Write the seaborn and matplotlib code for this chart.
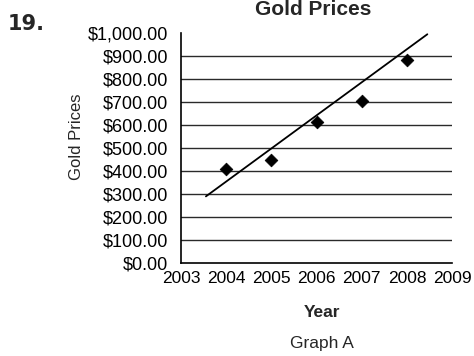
import matplotlib
matplotlib.use("Agg")
import matplotlib.pyplot as plt
import matplotlib.ticker as mticker
import seaborn as sns
import pandas as pd

# observed gold prices (points)
years = [2004, 2005, 2006, 2007, 2008]
prices = [410, 450, 615, 705, 885]

# hand-drawn line of best fit (end points)
fit_years = [2003.55, 2008.45]
fit_prices = [290, 995]

y_ticks = list(range(0, 1001, 100))
x_ticks = list(range(2003, 2010))

sns.set_style("white")
plt.rcParams['font.family'] = ['Liberation Sans', 'DejaVu Sans']

fig = plt.figure(figsize=(4.74, 3.56), dpi=100)
ax = fig.add_axes([0.382, 0.261, 0.572, 0.646])

pts = pd.DataFrame({"Year": years, "Price": prices})
fit = pd.DataFrame({"Year": fit_years, "Price": fit_prices})

for v in y_ticks[1:-1]:
    ax.axhline(v, color="#2a2a2a", lw=1.0, zorder=1)

sns.lineplot(data=fit, x="Year", y="Price", color="black", lw=1.3, ax=ax, zorder=3)
sns.scatterplot(data=pts, x="Year", y="Price", marker="D", s=42, color="black",
                edgecolor="black", ax=ax, zorder=4)

ax.set_xlim(2003, 2009)
ax.set_ylim(0, 1000)
ax.set_xticks(x_ticks)
ax.set_yticks(y_ticks)
ax.yaxis.set_major_formatter(mticker.StrMethodFormatter("${x:,.2f}"))
ax.tick_params(axis="y", direction="inout", length=7, width=1, labelsize=13, pad=6, colors="black")
ax.tick_params(axis="x", direction="inout", length=4, width=1, labelsize=12.5, pad=4, colors="black")

sns.despine(ax=ax, top=True, right=True)
ax.spines["left"].set_color("black")
ax.spines["bottom"].set_color("black")
ax.spines["left"].set_linewidth(1.2)
ax.spines["bottom"].set_linewidth(1.2)

ax.set_xlabel("Year", fontsize=12.5, fontweight="bold")
ax.xaxis.set_label_coords(0.52, -0.183)
ax.set_ylabel("Gold Prices", fontsize=12)
ax.yaxis.set_label_coords(-0.357, 0.548)

fig.text(0.66, 0.958, "Gold Prices", ha="center", va="baseline", fontsize=15, fontweight="bold")
fig.text(0.679, 0.0225, "Graph A", ha="center", va="baseline", fontsize=12.5)
fig.text(0.017, 0.915, "19.", ha="left", va="baseline", fontsize=15, fontweight="bold",
         family=["DejaVu Sans"])

fig.savefig("out.png", dpi=100)
